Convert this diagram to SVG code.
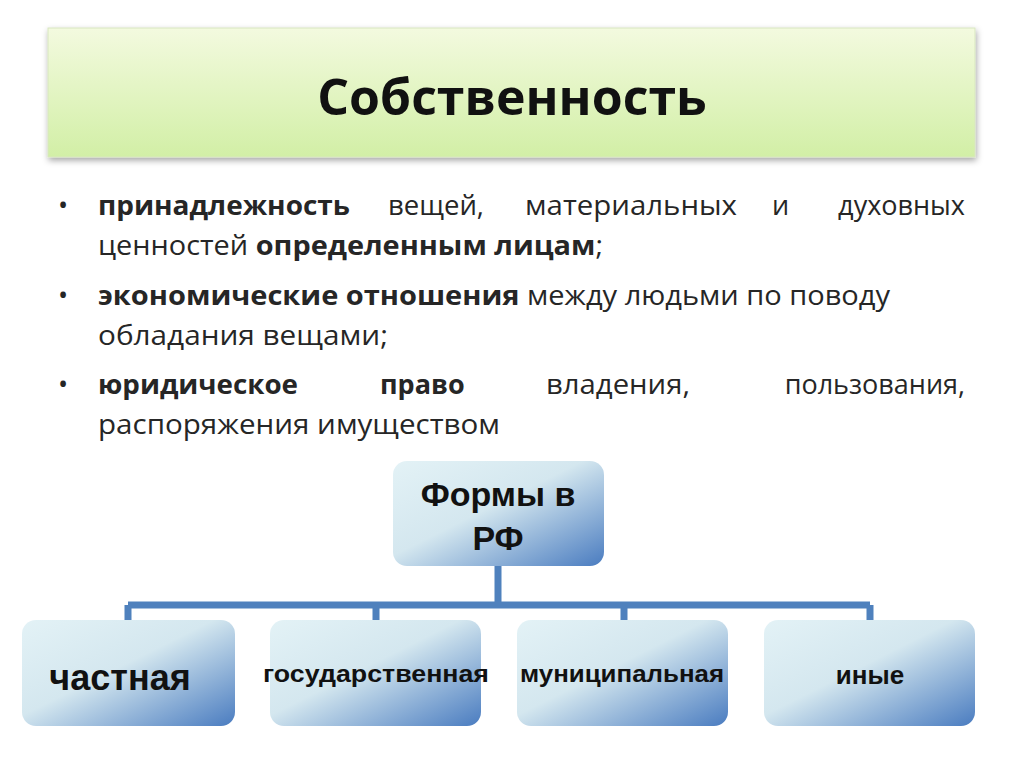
<svg xmlns="http://www.w3.org/2000/svg" width="1024" height="767" viewBox="0 0 1024 767">
<defs>
<linearGradient id="g1" x1="0" y1="0" x2="0" y2="1"><stop offset="0" stop-color="#f3fadf"/><stop offset="1" stop-color="#d2efa6"/></linearGradient>
<linearGradient id="gb" x1="0" y1="0" x2="1" y2="1"><stop offset="0" stop-color="#e3f2f6"/><stop offset="0.45" stop-color="#d4e7ef"/><stop offset="1" stop-color="#4a7cc0"/></linearGradient>
<filter id="sh" x="-5%" y="-10%" width="110%" height="125%"><feDropShadow dx="1" dy="3" stdDeviation="3" flood-color="#000" flood-opacity="0.35"/></filter>
</defs>
<style>
.t{font-family:"Open Sans","Liberation Sans",sans-serif;font-size:27px;fill:#262626}
.b{font-weight:bold}
.n{font-family:"Liberation Sans",Arial,sans-serif;font-weight:bold;fill:#111;text-anchor:middle}
.c{fill:none;stroke:#4f81bd;stroke-width:7}
</style>
<rect width="1024" height="767" fill="#fff"/>
<g id="title">
<rect x="48" y="28" width="927" height="129" fill="url(#g1)" stroke="#d8e6c0" filter="url(#sh)"/>
<text x="512" y="115" text-anchor="middle" font-family="Open Sans,Liberation Sans,sans-serif" font-weight="bold" font-size="50" fill="#111">Собственность</text>
</g>
<g id="bullets" class="t">
<text x="58" y="215">•</text><text x="58" y="305">•</text><text x="58" y="394">•</text>
<text x="98" y="215" class="b" textLength="252" lengthAdjust="spacingAndGlyphs">принадлежность</text>
<text x="388" y="215" textLength="96" lengthAdjust="spacingAndGlyphs">вещей,</text>
<text x="525" y="215" textLength="212" lengthAdjust="spacingAndGlyphs">материальных</text>
<text x="772" y="215">и</text>
<text x="965" y="215" text-anchor="end">духовных</text>
<text x="98" y="255" textLength="505" lengthAdjust="spacingAndGlyphs">ценностей <tspan class="b">определенным лицам</tspan>;</text>
<text x="98" y="305" textLength="792" lengthAdjust="spacingAndGlyphs"><tspan class="b">экономические отношения</tspan> между людьми по поводу</text>
<text x="98" y="345" textLength="290" lengthAdjust="spacingAndGlyphs">обладания вещами;</text>
<text x="98" y="394" class="b" textLength="200" lengthAdjust="spacingAndGlyphs">юридическое</text>
<text x="380" y="394" class="b">право</text>
<text x="546" y="394" textLength="144" lengthAdjust="spacingAndGlyphs">владения,</text>
<text x="965" y="394" text-anchor="end">пользования,</text>
<text x="98" y="434" textLength="402" lengthAdjust="spacingAndGlyphs">распоряжения имуществом</text>
</g>
<g id="connectors" class="c">
<path d="M498 566V605M128 605H870M128 605V620M376 605V620M624 605V620M870 605V620"/>
</g>
<g id="root"><rect x="393" y="461" width="211" height="105" rx="14" fill="url(#gb)"/>
<text class="n" x="498" y="506" font-size="34">Формы в</text><text class="n" x="498" y="550" font-size="34">РФ</text></g>
<g id="n1"><rect x="22" y="620" width="213" height="106" rx="14" fill="url(#gb)"/><text class="n" x="120" y="690" font-size="36">частная</text></g>
<g id="n2"><rect x="270" y="620" width="211" height="106" rx="14" fill="url(#gb)"/><text class="n" x="376" y="682" font-size="23" textLength="226" lengthAdjust="spacingAndGlyphs">государственная</text></g>
<g id="n3"><rect x="517" y="620" width="211" height="106" rx="14" fill="url(#gb)"/><text class="n" x="622" y="682" font-size="23" textLength="204" lengthAdjust="spacingAndGlyphs">муниципальная</text></g>
<g id="n4"><rect x="764" y="620" width="211" height="106" rx="14" fill="url(#gb)"/><text class="n" x="870" y="684" font-size="26">иные</text></g>
</svg>
